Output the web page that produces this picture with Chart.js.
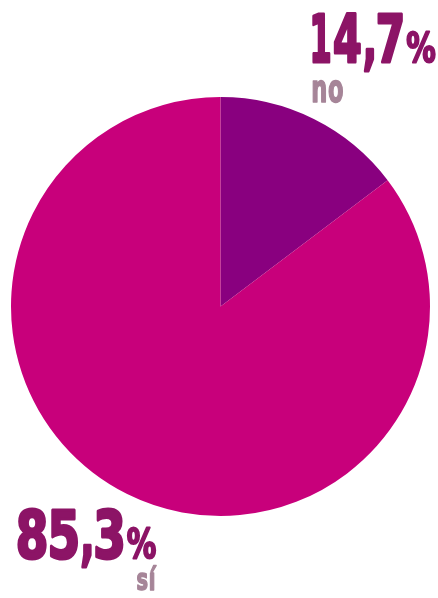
<!DOCTYPE html>
<html lang="es">
<head>
    <meta charset="UTF-8">
    <title>Encuesta sí / no</title>
    <script src="https://cdn.jsdelivr.net/npm/chart.js"></script>
    <style>
        html, body {
            margin: 0;
            padding: 0;
            background: #ffffff;
        }
        #pieChart {
            display: block;
        }
    </style>
</head>
<body>
    <canvas id="pieChart" width="438" height="598"></canvas>

    <script>
        // Datos del gráfico
        const categorias = ['no', 'sí'];
        const porcentajes = [14.7, 85.3];
        const colores = ['#89007F', '#C8007B'];

        // Glifos que se estrechan un poco más que el resto
        const estrechos = { '1': 0.68, '4': 0.88, '7': 0.9, ',': 0.8 };

        // Formato con coma decimal
        function formato(v) {
            return v.toFixed(1).replace('.', ',');
        }

        // Texto estrecho y grueso, letra a letra: cada glifo se comprime (sx),
        // se engorda con un trazo y se junta con el siguiente con una separación fija.
        // Con dibujar = false solo mide el ancho.
        function tira(ctx, txt, x, base, size, sx, sep, grosor, color, dibujar) {
            ctx.save();
            ctx.font = 'bold ' + size + 'px "DejaVu Sans Condensed", "DejaVu Sans", sans-serif';
            ctx.fillStyle = color;
            ctx.strokeStyle = color;
            ctx.lineWidth = grosor;
            ctx.lineJoin = 'round';
            ctx.textBaseline = 'alphabetic';
            let cursor = x;
            const chars = Array.from(txt);
            chars.forEach((ch, k) => {
                const m = ctx.measureText(ch);
                const s = sx * (estrechos[ch] || 1);
                const izq = m.actualBoundingBoxLeft;
                const ancho = (izq + m.actualBoundingBoxRight + grosor) * s;
                if (dibujar) {
                    ctx.save();
                    ctx.translate(cursor + (izq + grosor / 2) * s, base);
                    ctx.scale(s, 1);
                    ctx.fillText(ch, 0, 0);
                    if (grosor) ctx.strokeText(ch, 0, 0);
                    ctx.restore();
                }
                cursor += ancho + (k < chars.length - 1 ? sep : 0);
            });
            ctx.restore();
            return cursor - x;
        }

        // Etiqueta: número grande + % pequeño + nombre de la categoría debajo
        function etiqueta(ctx, i, x, base, lado) {
            const colorNum = '#8C1466';
            const colorCat = '#A68598';
            const w = tira(ctx, formato(porcentajes[i]), x, base, 66, 0.79, 2.5, 3, colorNum, true);
            const wp = tira(ctx, '%', x + w + 3, base, 41, 0.8, 0, 2, colorNum, true);
            const fin = x + w + 3 + wp;
            const nombre = categorias[i];
            if (lado === 'left') {
                tira(ctx, nombre, x, base + 40, 38, 0.66, 2, 1.5, colorCat, true);
            } else {
                const wn = tira(ctx, nombre, 0, 0, 30, 0.72, 2, 1.5, colorCat, false);
                tira(ctx, nombre, fin + 1 - wn, base + 32, 30, 0.72, 2, 1.5, colorCat, true);
            }
        }

        const etiquetasPlugin = {
            id: 'etiquetas',
            afterDraw(chart) {
                const ctx = chart.ctx;
                etiqueta(ctx, 0, 312, 62, 'left');
                etiqueta(ctx, 1, 17, 558, 'right');
            }
        };

        new Chart(document.getElementById('pieChart').getContext('2d'), {
            type: 'pie',
            data: {
                labels: categorias,
                datasets: [{
                    data: porcentajes,
                    backgroundColor: colores,
                    borderWidth: 0
                }]
            },
            options: {
                responsive: false,
                animation: false,
                layout: {
                    padding: { left: 11, right: 8, top: 97, bottom: 82 }
                },
                plugins: {
                    legend: { display: false },
                    tooltip: { enabled: false }
                }
            },
            plugins: [etiquetasPlugin]
        });
    </script>
</body>
</html>
